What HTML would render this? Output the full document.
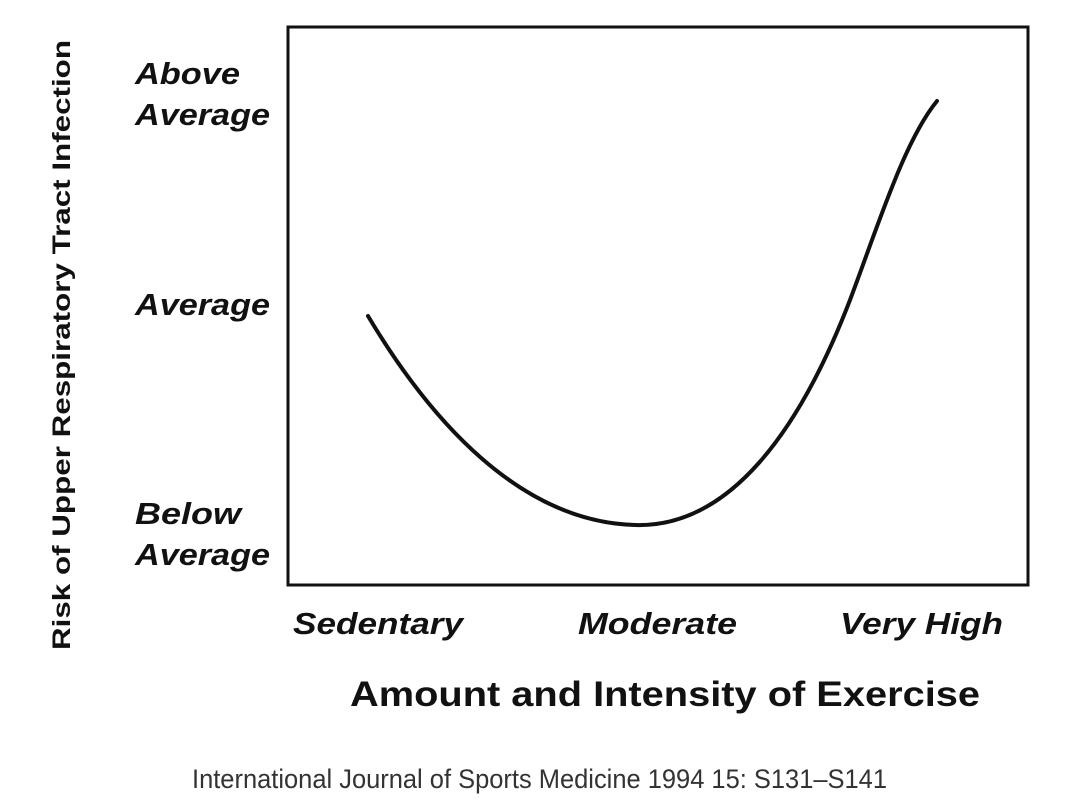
<!DOCTYPE html>
<html><head><meta charset="utf-8"><style>
html,body{margin:0;padding:0;background:#fff;}
body{width:1080px;height:807px;position:relative;overflow:hidden;font-family:"Liberation Sans",sans-serif;}
</style></head><body>
<svg width="1080" height="807" viewBox="0 0 1080 807" xmlns="http://www.w3.org/2000/svg" style="position:absolute;left:0;top:0">
<rect x="288" y="27" width="740" height="558" fill="none" stroke="#111" stroke-width="3"/>
<path d="M368,316 C430,420 520,522 635,525 C730,528 800,430 850,300 C880,220 905,140 937,101" fill="none" stroke="#111" stroke-width="4" stroke-linecap="round"/>
<g font-family="Liberation Sans, sans-serif" font-weight="bold" font-style="italic" font-size="31" fill="#111">
<text x="135" y="84" textLength="105" lengthAdjust="spacingAndGlyphs">Above</text>
<text x="135" y="125" textLength="135" lengthAdjust="spacingAndGlyphs">Average</text>
<text x="135" y="315" textLength="135" lengthAdjust="spacingAndGlyphs">Average</text>
<text x="135" y="524" textLength="106" lengthAdjust="spacingAndGlyphs">Below</text>
<text x="135" y="565" textLength="135" lengthAdjust="spacingAndGlyphs">Average</text>
<text x="293" y="634" textLength="170" lengthAdjust="spacingAndGlyphs">Sedentary</text>
<text x="578" y="634" textLength="159" lengthAdjust="spacingAndGlyphs">Moderate</text>
<text x="840" y="634" textLength="163" lengthAdjust="spacingAndGlyphs">Very High</text>
</g>
<text x="350" y="706" textLength="630" lengthAdjust="spacingAndGlyphs" font-family="Liberation Sans, sans-serif" font-weight="bold" font-size="35" fill="#111">Amount and Intensity of Exercise</text>
<text transform="translate(70,345) rotate(-90)" text-anchor="middle" textLength="610" lengthAdjust="spacingAndGlyphs" font-family="Liberation Sans, sans-serif" font-weight="bold" font-size="25" fill="#111">Risk of Upper Respiratory Tract Infection</text>
<text x="192" y="788" textLength="695" lengthAdjust="spacingAndGlyphs" font-family="Liberation Sans, sans-serif" font-size="27" fill="#333">International Journal of Sports Medicine 1994 15: S131–S141</text>
</svg>
</body></html>
